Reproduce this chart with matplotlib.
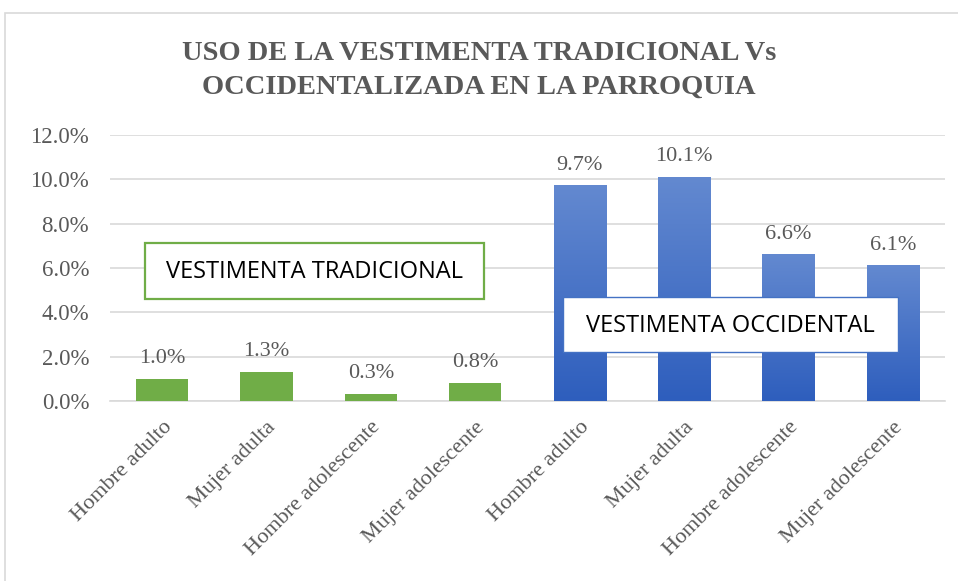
import numpy as np
import matplotlib.pyplot as plt
from matplotlib.patches import Rectangle
from matplotlib.colors import LinearSegmentedColormap

categories = ["Hombre adulto", "Mujer adulta", "Hombre adolescente", "Mujer adolescente",
              "Hombre adulto", "Mujer adulta", "Hombre adolescente", "Mujer adolescente"]
values = [1.0, 1.3, 0.3, 0.8, 9.7, 10.1, 6.6, 6.1]
groups = ["trad", "trad", "trad", "trad", "occ", "occ", "occ", "occ"]
yticks = [0, 2, 4, 6, 8, 10, 12]

title = "USO DE LA VESTIMENTA TRADICIONAL Vs\nOCCIDENTALIZADA EN LA PARROQUIA"
green = "#70AD47"
blue_top = "#6389D0"
blue_bot = "#2E5EBD"
text_gray = "#595959"
grid_gray = "#D9D9D9"

fig = plt.figure(figsize=(9.58, 5.81), dpi=100)
fig.patch.set_facecolor("white")

# chart frame
fig.add_artist(Rectangle((5 / 958, -0.02), 1.2, (581 - 13) / 581 + 0.02,
                         transform=fig.transFigure, fill=False,
                         edgecolor=grid_gray, linewidth=1.2))

ax = fig.add_axes([110 / 958, 180 / 581, 835 / 958, (401 - 135) / 581])
x = np.arange(len(categories))
colors = [green if g == "trad" else "none" for g in groups]
bars = ax.bar(x, values, width=0.5, color=colors, zorder=3)

# gradient fill for the westernised-clothing bars
cmap = LinearSegmentedColormap.from_list("bluegrad", [blue_bot, blue_top])
grad = np.linspace(0, 1, 256).reshape(-1, 1)
for b, g in zip(bars, groups):
    if g == "occ":
        x0, w, h = b.get_x(), b.get_width(), b.get_height()
        ax.imshow(grad, cmap=cmap, origin="lower", aspect="auto",
                  extent=(x0, x0 + w, 0, h), zorder=3)

for xi, v in zip(x, values):
    ax.text(xi, v + 0.5, f"{v:.1f}%", ha="center", va="bottom",
            fontsize=16, family="Liberation Serif", color=text_gray, zorder=4)

ax.set_xlim(-0.5, len(categories) - 0.5)
ax.set_ylim(0, 12)
ax.set_yticks(yticks)
ax.set_yticklabels([f"{t:.1f}%" for t in yticks], family="Liberation Serif",
                   fontsize=16.5, color=text_gray)
ax.yaxis.grid(True, color=grid_gray, linewidth=1.2, zorder=0)
ax.set_axisbelow(True)
for s in ["top", "right", "left"]:
    ax.spines[s].set_visible(False)
ax.spines["bottom"].set_color(grid_gray)
ax.spines["bottom"].set_linewidth(1.2)
ax.tick_params(axis="both", length=0)
ax.tick_params(axis="y", pad=15)
ax.set_xticks(x)
ax.set_xticklabels(categories, rotation=45, ha="right", rotation_mode="anchor",
                   family="Liberation Serif", fontsize=16, color=text_gray)
ax.tick_params(axis="x", pad=12)

fig.text(0.5, 1 - 70 / 581, title, ha="center", va="center",
         family="Liberation Serif", fontweight="bold", fontsize=20.5,
         color=text_gray, linespacing=1.45)

# annotation boxes
fig.add_artist(Rectangle((145 / 958, 1 - 299 / 581), (484 - 145) / 958, 56 / 581,
                         transform=fig.transFigure, facecolor="white",
                         edgecolor=green, linewidth=1.6, zorder=5))
fig.text((145 + 484) / 2 / 958, 1 - 272 / 581, "VESTIMENTA TRADICIONAL",
         ha="center", va="center", family="Open Sans", fontsize=17,
         color="black", zorder=6)
fig.add_artist(Rectangle((563 / 958, 1 - 352 / 581), (898 - 563) / 958, 55 / 581,
                         transform=fig.transFigure, facecolor="white",
                         edgecolor="#4472C4", linewidth=1.0, zorder=5))
fig.text((563 + 898) / 2 / 958, 1 - 326 / 581, "VESTIMENTA OCCIDENTAL",
         ha="center", va="center", family="Open Sans", fontsize=17,
         color="black", zorder=6)

fig.savefig("out.png", dpi=100)
